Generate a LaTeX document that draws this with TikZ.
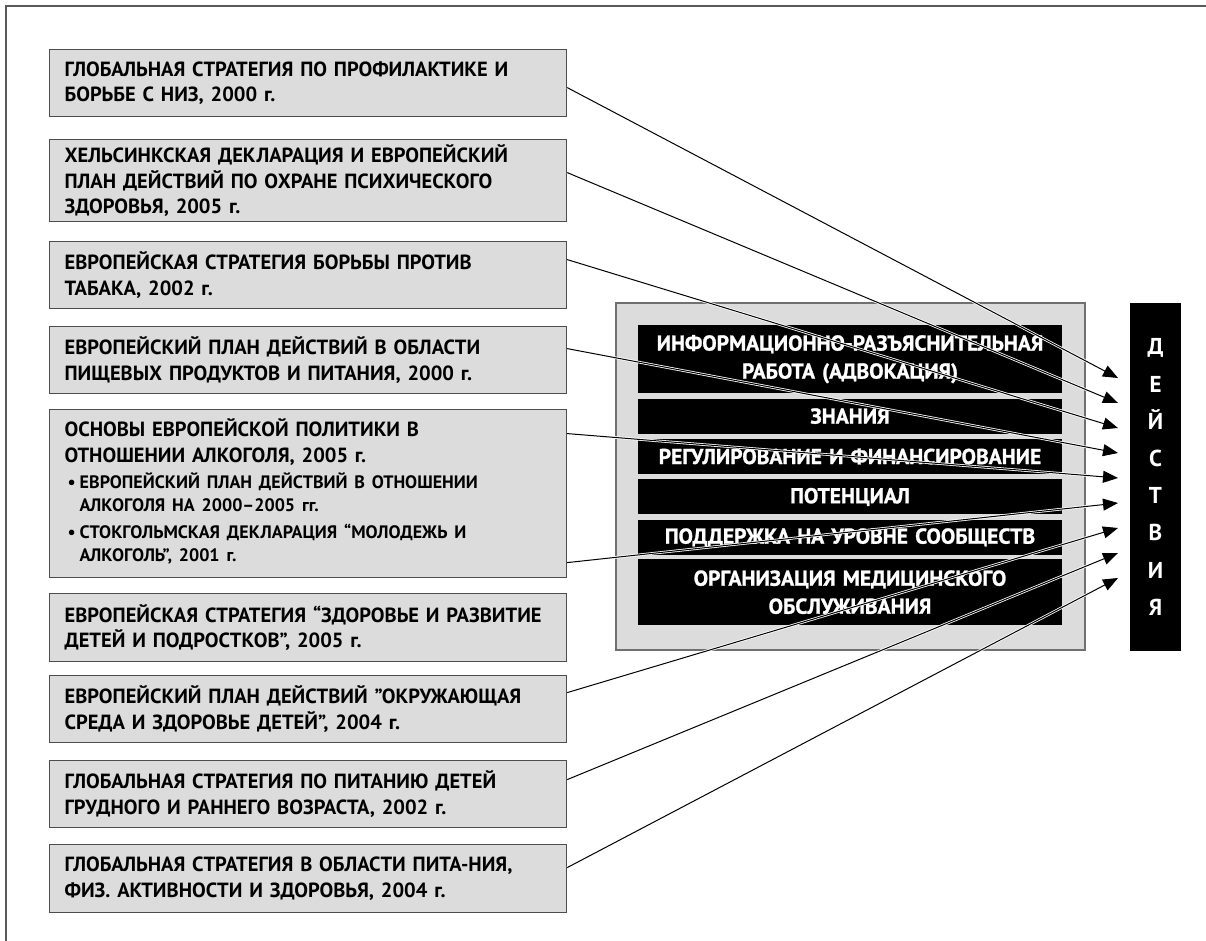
\documentclass[tikz,border=0pt]{standalone}
\usepackage{fontspec}
\setmainfont{PT Sans}
\newfontfamily\barfont[FakeBold=1.2]{PT Sans}
\usetikzlibrary{arrows.meta,positioning}
\definecolor{boxfill}{HTML}{DCDCDC}
\definecolor{boxline}{HTML}{4D4D4D}
\definecolor{panelline}{HTML}{707070}
\definecolor{frameline}{HTML}{595959}
\setlength{\parindent}{0pt}
\newcommand*\srcitem[2]{\par\vspace{3pt}{\fontsize{18}{23}\selectfont
    \begin{tabular}[t]{@{\hspace{3pt}}l@{\hspace{4pt}}l@{}}\textbullet & #1\\ & #2\end{tabular}\par}}

\begin{document}
\begin{tikzpicture}[x=1pt,y=-1pt,node distance=5pt,
    src/.style={shape=rectangle,draw=boxline,fill=boxfill,line width=1.2pt,anchor=north west,
        text width=487pt,inner xsep=15pt,inner ysep=0pt,align=left,font=\bfseries\fontsize{20.5}{25.5}\selectfont},
    bar/.style={shape=rectangle,fill=black,text=white,minimum width=424pt,text width=410pt,inner sep=0pt,
        align=center,font=\barfont\bfseries\fontsize{21.5}{28}\selectfont},
    conn/.style={-{Triangle[length=15pt,width=12pt]},line width=1pt,
        preaction={draw=white,line width=2.6pt,arrows=-}}]
\useasboundingbox (0,0) rectangle (1206,941);
\draw[frameline,line width=2pt] (6,941) -- (6,6) -- (1206,6);

\node (ncd) [src,minimum height=67pt] at (49,49) {
    ГЛОБАЛЬНАЯ СТРАТЕГИЯ ПО ПРОФИЛАКТИКЕ И\\БОРЬБЕ С НИЗ, 2000 г.};
\node (mental) [src,minimum height=82pt] at (49,139) {
    ХЕЛЬСИНКСКАЯ ДЕКЛАРАЦИЯ И ЕВРОПЕЙСКИЙ\\ПЛАН ДЕЙСТВИЙ ПО ОХРАНЕ ПСИХИЧЕСКОГО\\ЗДОРОВЬЯ, 2005 г.};
\node (tobacco) [src,minimum height=67pt] at (49,241) {
    ЕВРОПЕЙСКАЯ СТРАТЕГИЯ БОРЬБЫ ПРОТИВ\\ТАБАКА, 2002 г.};
\node (food) [src,minimum height=67pt] at (49,326) {
    ЕВРОПЕЙСКИЙ ПЛАН ДЕЙСТВИЙ В ОБЛАСТИ\\ПИЩЕВЫХ ПРОДУКТОВ И ПИТАНИЯ, 2000 г.};
\node (alcohol) [src,minimum height=168pt] at (49,409) {
    ОСНОВЫ ЕВРОПЕЙСКОЙ ПОЛИТИКИ В\\ОТНОШЕНИИ АЛКОГОЛЯ, 2005 г.
    \srcitem{ЕВРОПЕЙСКИЙ ПЛАН ДЕЙСТВИЙ В ОТНОШЕНИИ}{АЛКОГОЛЯ НА 2000–2005 гг.}
    \srcitem{СТОКГОЛЬМСКАЯ ДЕКЛАРАЦИЯ “МОЛОДЕЖЬ И}{АЛКОГОЛЬ”, 2001 г.}};
\node (youth) [src,minimum height=68pt] at (49,593) {
    ЕВРОПЕЙСКАЯ СТРАТЕГИЯ “ЗДОРОВЬЕ И РАЗВИТИЕ\\ДЕТЕЙ И ПОДРОСТКОВ”, 2005 г.};
\node (environ) [src,minimum height=67pt] at (49,675) {
    ЕВРОПЕЙСКИЙ ПЛАН ДЕЙСТВИЙ ”ОКРУЖАЮЩАЯ\\СРЕДА И ЗДОРОВЬЕ ДЕТЕЙ”, 2004 г.};
\node (infant) [src,minimum height=67pt] at (49,760) {
    ГЛОБАЛЬНАЯ СТРАТЕГИЯ ПО ПИТАНИЮ ДЕТЕЙ\\ГРУДНОГО И РАННЕГО ВОЗРАСТА, 2002 г.};
\node (diet) [src,minimum height=68pt] at (49,844) {
    ГЛОБАЛЬНАЯ СТРАТЕГИЯ В ОБЛАСТИ ПИТА-НИЯ,\\ФИЗ. АКТИВНОСТИ И ЗДОРОВЬЯ, 2004 г.};

\node (panel) [shape=rectangle,draw=panelline,fill=boxfill,line width=1.2pt,
    minimum width=469pt,minimum height=347pt] at (850.5,476.5) {};
\node (advocacy) [bar,minimum height=68pt,anchor=north] at (850,325) {
    ИНФОРМАЦИОННО-РАЗЪЯСНИТЕЛЬНАЯ\\РАБОТА (АДВОКАЦИЯ)};
\node (knowledge) [bar,minimum height=35pt] [below=of advocacy] {ЗНАНИЯ};
\node (regulation) [bar,minimum height=35pt] [below=of knowledge] {РЕГУЛИРОВАНИЕ И ФИНАНСИРОВАНИЕ};
\node (capacity) [bar,minimum height=35pt] [below=of regulation] {ПОТЕНЦИАЛ};
\node (community) [bar,minimum height=35pt] [below=of capacity] {ПОДДЕРЖКА НА УРОВНЕ СООБЩЕСТВ};
\node (services) [bar,minimum height=66pt] [below=4pt of community] {
    ОРГАНИЗАЦИЯ МЕДИЦИНСКОГО\\ОБСЛУЖИВАНИЯ};

\node (actions) [shape=rectangle,fill=black,text=white,minimum width=51pt,minimum height=348pt,
    text width=45pt,inner sep=0pt,align=center,font=\bfseries\fontsize{23}{37.2}\selectfont]
    at (1155.5,477) {Д\\Е\\Й\\С\\Т\\В\\И\\Я};

\foreach \i in {1,...,9}
    \coordinate (t\i) at (1118,353+25*\i);

\draw[conn] ([yshift=-4.5pt]ncd.east) -- (t1);
\draw[conn] ([yshift=8pt]mental.east) -- (t2);
\draw[conn] ([yshift=15.5pt]tobacco.east) -- (t3);
\draw[conn] ([yshift=11.5pt]food.east) -- (t4);
\draw[conn] ([yshift=60pt]alcohol.east) -- (t5);
\draw[conn] ([yshift=-69pt]alcohol.east) -- (t6);
\draw[conn] ([yshift=16.5pt]environ.east) -- (t7);
\draw[conn] ([yshift=14.5pt]infant.east) -- (t8);
\draw[conn] ([yshift=11pt]diet.east) -- (t9);
\end{tikzpicture}
\end{document}
